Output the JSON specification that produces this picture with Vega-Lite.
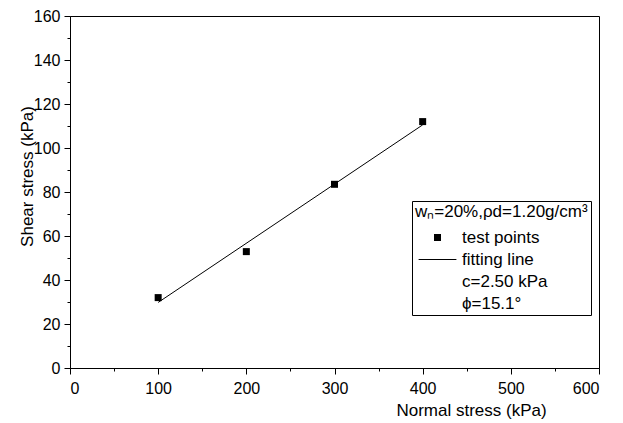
{
  "$schema": "https://vega.github.io/schema/vega-lite/v6.json",
  "width": 529,
  "height": 352,
  "autosize": {"type": "none"},
  "padding": {"left": 70, "top": 16, "right": 24, "bottom": 55},
  "background": "white",
  "config": {
    "view": {"stroke": "black", "strokeWidth": 1},
    "axis": {
      "grid": false,
      "domainColor": "black",
      "tickColor": "black",
      "labelColor": "black",
      "labelFont": "Liberation Sans",
      "labelFontSize": 16,
      "titleFont": "Liberation Sans",
      "titleFontSize": 17,
      "titleFontWeight": "normal",
      "titleColor": "black",
      "labelOverlap": false,
      "tickSize": 6
    }
  },
  "data": {
    "values": [
      {"sigma": 100, "tau": 32.0, "series": "test points"},
      {"sigma": 200, "tau": 52.9, "series": "test points"},
      {"sigma": 300, "tau": 83.5, "series": "test points"},
      {"sigma": 400, "tau": 112.0, "series": "test points"},
      {"sigma": 100, "tau": 29.8, "series": "fitting line"},
      {"sigma": 400, "tau": 110.5, "series": "fitting line"}
    ]
  },
  "resolve": {"axis": {"x": "independent", "y": "independent"}},
  "layer": [
    {
      "transform": [{"filter": "datum.series === 'fitting line'"}],
      "mark": {"type": "line", "color": "black", "strokeWidth": 1},
      "encoding": {
        "x": {
          "field": "sigma",
          "type": "quantitative",
          "scale": {"domain": [0, 600], "nice": false, "zero": false},
          "axis": {
            "orient": "bottom",
            "values": [50, 150, 250, 350, 450, 550],
            "tickSize": 3,
            "labels": false,
            "domain": false,
            "title": null
          }
        },
        "y": {
          "field": "tau",
          "type": "quantitative",
          "scale": {"domain": [0, 160], "nice": false, "zero": false},
          "axis": {
            "orient": "left",
            "values": [10, 30, 50, 70, 90, 110, 130, 150],
            "tickSize": 3,
            "labels": false,
            "domain": false,
            "title": null
          }
        }
      }
    },
    {
      "transform": [{"filter": "datum.series === 'test points'"}],
      "mark": {"type": "point", "filled": true, "color": "black", "size": 49, "opacity": 1, "strokeWidth": 0},
      "encoding": {
        "x": {
          "field": "sigma",
          "type": "quantitative",
          "scale": {"domain": [0, 600], "nice": false, "zero": false},
          "axis": {
            "orient": "bottom",
            "values": [0, 100, 200, 300, 400, 500, 600],
            "labelPadding": 6,
            "title": "Normal stress (kPa)",
            "titleX": 401,
            "titleY": 47,
            "titleAlign": "center",
            "titleBaseline": "alphabetic"
          }
        },
        "y": {
          "field": "tau",
          "type": "quantitative",
          "scale": {"domain": [0, 160], "nice": false, "zero": false},
          "axis": {
            "orient": "left",
            "values": [0, 20, 40, 60, 80, 100, 120, 140, 160],
            "labelPadding": 4,
            "title": "Shear stress (kPa)",
            "titleX": -38,
            "titleY": 160,
            "titleAngle": -90,
            "titleAlign": "center",
            "titleBaseline": "alphabetic"
          }
        },
        "shape": {
          "field": "series",
          "type": "nominal",
          "scale": {
            "domain": ["test points", "fitting line", "c=2.50 kPa", "ϕ=15.1°"],
            "range": ["square", "M-5.4,-0.14H5.4V0.14H-5.4Z", "M0,0", "M0,0"]
          },
          "legend": {
            "orient": "none",
            "legendX": 342,
            "legendY": 185,
            "title": "wₙ=20%,ρd=1.20g/cm³",
            "titleFont": "Liberation Sans",
            "titleFontSize": 17,
            "titleFontWeight": "normal",
            "titleColor": "black",
            "titlePadding": 8,
            "titleLimit": 400,
            "labelFont": "Liberation Sans",
            "labelFontSize": 17,
            "labelColor": "black",
            "labelLimit": 400,
            "strokeColor": "black",
            "fillColor": "white",
            "padding": 3,
            "symbolSize": 49,
            "symbolOffset": 14,
            "labelOffset": 16,
            "rowPadding": 4
          }
        }
      }
    }
  ]
}
